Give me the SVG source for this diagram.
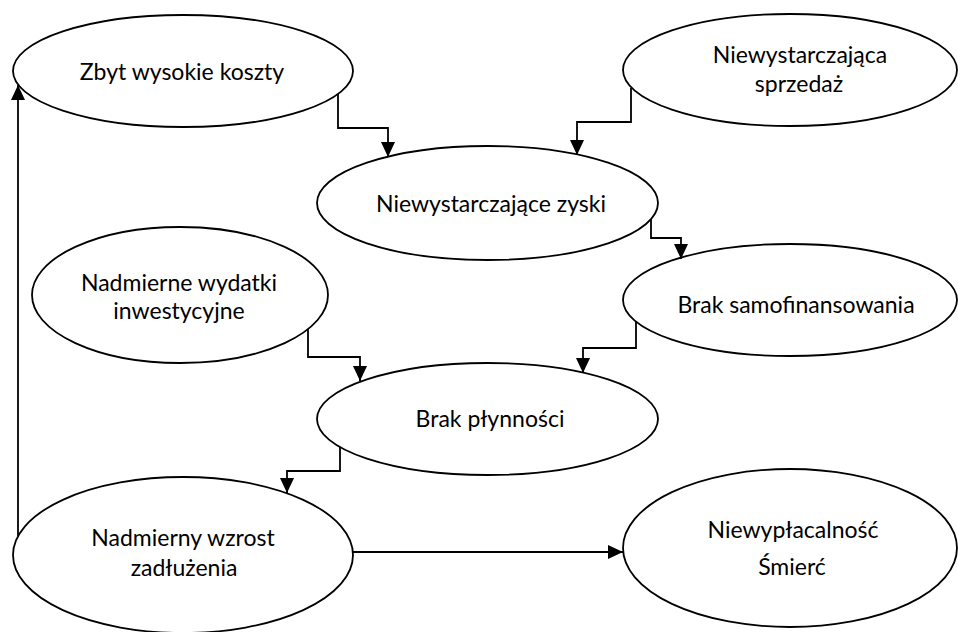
<svg xmlns="http://www.w3.org/2000/svg" width="958" height="632" viewBox="0 0 958 632">
  <style>
    .node ellipse { fill: #ffffff; stroke: #000000; stroke-width: 1.8; }
    .node text { font-family: Lato, "Open Sans", "Liberation Sans", sans-serif; font-size: 23px; fill: #000000; text-anchor: middle; }
    .edge { fill: none; stroke: #000000; stroke-width: 1.8; marker-end: url(#arrow); }
  </style>
  <defs>
    <marker id="arrow" markerUnits="userSpaceOnUse" markerWidth="15" markerHeight="14" refX="15" refY="7" orient="auto">
      <path d="M0,0 L15,7 L0,14 Z" fill="#000000"/>
    </marker>
  </defs>
  <rect width="958" height="632" fill="#ffffff"/>

  <g id="nodes">
    <g id="zbyt-wysokie-koszty" class="node">
      <ellipse cx="183" cy="71" rx="170" ry="56"/>
      <text x="182" y="80">Zbyt wysokie koszty</text>
    </g>
    <g id="niewystarczajaca-sprzedaz" class="node">
      <ellipse cx="790" cy="70" rx="167" ry="56"/>
      <text x="800" y="63">Niewystarczająca</text>
      <text x="799" y="92">sprzedaż</text>
    </g>
    <g id="niewystarczajace-zyski" class="node">
      <ellipse cx="487.5" cy="203" rx="170.5" ry="57"/>
      <text x="491" y="212">Niewystarczające zyski</text>
    </g>
    <g id="brak-samofinansowania" class="node">
      <ellipse cx="790" cy="300" rx="167" ry="56"/>
      <text x="796" y="313">Brak samofinansowania</text>
    </g>
    <g id="nadmierne-wydatki" class="node">
      <ellipse cx="180" cy="295" rx="148" ry="68"/>
      <text x="179" y="291">Nadmierne wydatki</text>
      <text x="179" y="319">inwestycyjne</text>
    </g>
    <g id="brak-plynnosci" class="node">
      <ellipse cx="487.5" cy="419" rx="170.5" ry="56"/>
      <text x="490" y="427">Brak płynności</text>
    </g>
    <g id="nadmierny-wzrost-zadluzenia" class="node">
      <ellipse cx="183" cy="555" rx="170" ry="78"/>
      <text x="183" y="546">Nadmierny wzrost</text>
      <text x="184" y="576">zadłużenia</text>
    </g>
    <g id="niewyplacalnosc" class="node">
      <ellipse cx="790" cy="548" rx="167" ry="79"/>
      <text x="793" y="538">Niewypłacalność</text>
      <text x="792" y="575">Śmierć</text>
    </g>
  </g>

  <g id="connectors">
    <path class="edge" d="M338,94 V128 H388 V157"/>
    <path class="edge" d="M631,88 V122 H577 V155"/>
    <path class="edge" d="M651,219 V238 H681 V259"/>
    <path class="edge" d="M308,329 V357 H360 V381"/>
    <path class="edge" d="M636,322 V348 H583 V373"/>
    <path class="edge" d="M340,447 V471 H287 V493"/>
    <path class="edge" d="M353,552 H623"/>
    <path class="edge" d="M18,536 V85"/>
  </g>
</svg>
